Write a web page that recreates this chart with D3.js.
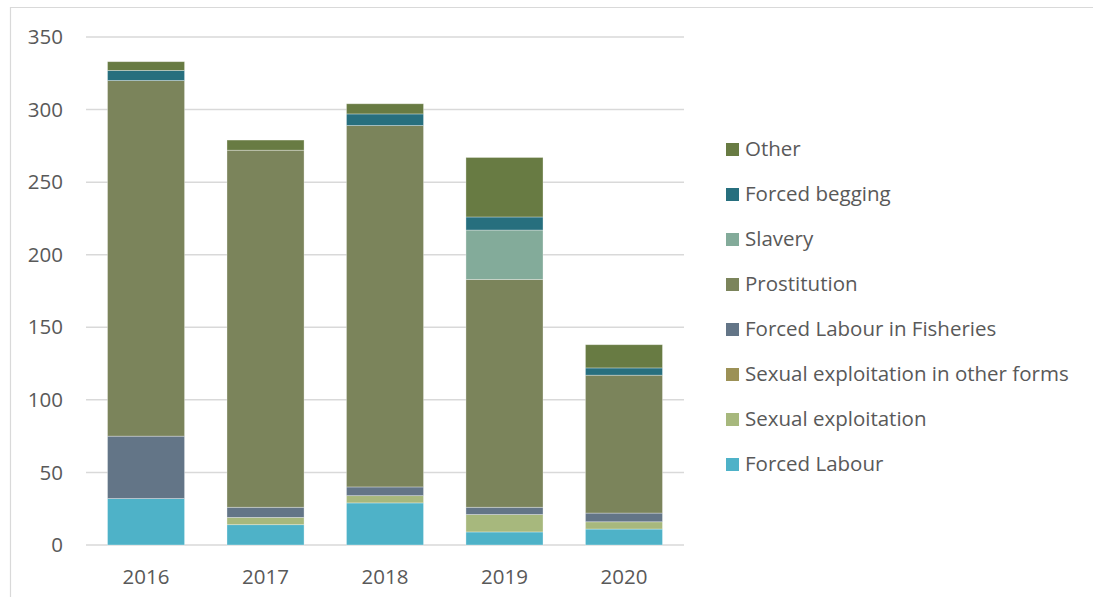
<!DOCTYPE html>
<html>
<head>
<meta charset="utf-8">
<script src="https://cdn.jsdelivr.net/npm/d3@7"></script>
<style>
  body { margin: 0; background: #fff; }
  svg { display: block; font-family: 'Open Sans', 'Noto Sans', sans-serif; }
</style>
</head>
<body>
<svg id="chart" width="1093" height="597"></svg>
<script>
const years = ['2016', '2017', '2018', '2019', '2020'];
const seriesNames = [
  'Forced Labour',
  'Sexual exploitation',
  'Sexual exploitation in other forms',
  'Forced Labour in Fisheries',
  'Prostitution',
  'Slavery',
  'Forced begging',
  'Other'
];
const forcedLabour = [32, 14, 29, 9, 11];
const sexualExploitation = [0, 5, 5, 12, 5];
const sexualOtherForms = [0, 0, 0, 0, 0];
const fisheries = [43, 7, 6, 5, 6];
const prostitution = [245, 246, 249, 157, 95];
const slavery = [0, 0, 0, 34, 0];
const forcedBegging = [7, 0, 8, 9, 5];
const other = [6, 7, 7, 41, 16];
const yTicks = [0, 50, 100, 150, 200, 250, 300, 350];

const colors = ['#4eb2c8', '#a7b87d', '#9c9156', '#637587', '#7b845b', '#83ab9a', '#276f7e', '#687b43'];

const MARGIN = { top: 37, left: 86, plotRight: 684, bottom: 545 };
const FONT_SIZE = 20.5;

const svg = d3.select('#chart');

// frame
svg.append('path')
  .attr('d', 'M10.5,600 V7.5 H1093')
  .attr('fill', 'none')
  .attr('stroke', '#d9d9d9')
  .attr('stroke-width', 1.2);

const values = [forcedLabour, sexualExploitation, sexualOtherForms, fisheries,
  prostitution, slavery, forcedBegging, other];
const rows = years.map((y, i) => {
  const row = { year: y };
  seriesNames.forEach((s, k) => { row[s] = values[k][i]; });
  return row;
});
const stacked = d3.stack().keys(seriesNames)(rows);

const x = d3.scaleBand()
  .domain(years)
  .range([MARGIN.left, MARGIN.plotRight])
  .paddingInner(0.355)
  .paddingOuter(0.18);

const y = d3.scaleLinear()
  .domain([0, 350])
  .range([MARGIN.bottom, MARGIN.top]);

// gridlines
svg.append('g')
  .selectAll('line')
  .data(yTicks)
  .join('line')
  .attr('x1', MARGIN.left)
  .attr('x2', MARGIN.plotRight)
  .attr('y1', d => y(d))
  .attr('y2', d => y(d))
  .attr('stroke', '#d9d9d9')
  .attr('stroke-width', 1.5);

// y labels
svg.append('g')
  .selectAll('text')
  .data(yTicks)
  .join('text')
  .attr('x', 63)
  .attr('y', d => y(d))
  .attr('dy', '0.35em')
  .attr('text-anchor', 'end')
  .attr('fill', '#595959')
  .attr('font-size', FONT_SIZE)
  .text(d => d);

// bars
svg.append('g')
  .selectAll('g')
  .data(stacked)
  .join('g')
  .attr('fill', (d, i) => colors[i])
  .selectAll('rect')
  .data(d => d.filter(p => p[1] > p[0]))
  .join('rect')
  .attr('x', d => x(d.data.year))
  .attr('width', x.bandwidth())
  .attr('y', d => y(d[1]))
  .attr('height', d => y(d[0]) - y(d[1]))
  .attr('stroke', '#ffffff')
  .attr('stroke-opacity', 0.4)
  .attr('stroke-width', 0.8);

// x labels
svg.append('g')
  .selectAll('text')
  .data(years)
  .join('text')
  .attr('x', d => x(d) + x.bandwidth() / 2)
  .attr('y', 577)
  .attr('dy', '0.35em')
  .attr('text-anchor', 'middle')
  .attr('fill', '#595959')
  .attr('font-size', FONT_SIZE)
  .text(d => d);

// legend (reverse order, top is Other)
const legendItems = seriesNames.map((s, i) => ({ name: s, color: colors[i] })).reverse();
const legend = svg.append('g')
  .selectAll('g')
  .data(legendItems)
  .join('g')
  .attr('transform', (d, i) => `translate(726, ${149 + i * 45})`);

legend.append('rect')
  .attr('x', 0)
  .attr('y', -6)
  .attr('width', 13)
  .attr('height', 13)
  .attr('fill', d => d.color);

legend.append('text')
  .attr('x', 19)
  .attr('y', 0)
  .attr('dy', '0.35em')
  .attr('fill', '#595959')
  .attr('font-size', FONT_SIZE)
  .text(d => d.name);
</script>
</body>
</html>
